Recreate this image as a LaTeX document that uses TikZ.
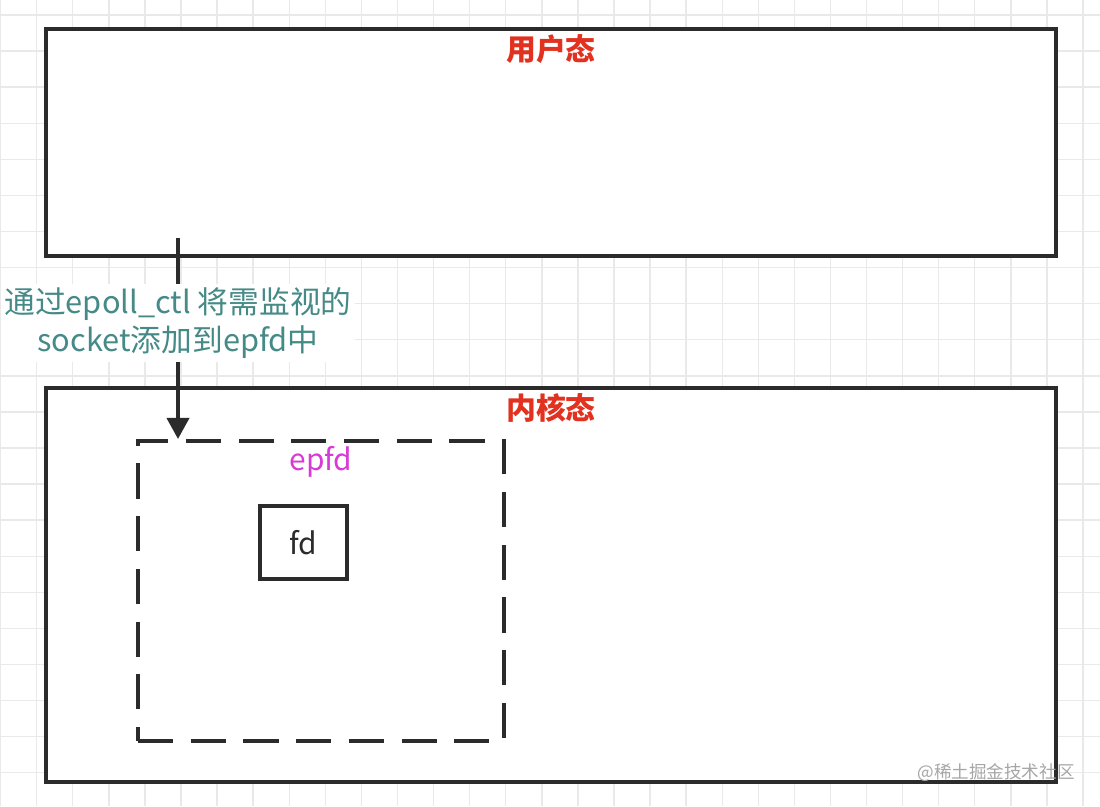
\documentclass[tikz,border=0pt]{standalone}
\usepackage{fontspec}
\setmainfont{Noto Sans CJK SC}
\usepackage{tikz}
\usetikzlibrary{arrows.meta,positioning,calc}
\definecolor{linegray}{HTML}{2B2B2B}
\definecolor{titlered}{HTML}{E2321F}
\definecolor{noteteal}{HTML}{458A87}
\definecolor{epfdpink}{HTML}{D83AD8}
\definecolor{gridgray}{HTML}{E9E9E9}

\tikzset{
  box/.style={draw=linegray, line width=2.3pt, fill=white},
  title/.style={text=titlered, font=\fontsize{17}{19}\selectfont\bfseries},
  gridline/.style={draw=gridgray, line width=0.8pt}
}

\begin{document}
\begin{tikzpicture}[x=0.02cm, y=-0.02cm]
  \useasboundingbox (0,0) rectangle (1100,806);
  % background grid
  \foreach \i in {0,...,30} {
    \draw[gridline] ({0.6+36.08*\i},0) -- ({0.6+36.08*\i},806);
  }
  \foreach \j in {0,...,22} {
    \draw[gridline] (0,{15+36.08*\j}) -- (1100,{15+36.08*\j});
  }

  \node[box, minimum width=20.2cm, minimum height=4.54cm] (user) at (551,142.5) {};
  \node[title, below=0.03cm of user.north] (usertitle) {用户态};

  \node[box, minimum width=20.2cm, minimum height=7.88cm] (kernel) at (551,585) {};
  \node[title, below=0.03cm of kernel.north] (kerneltitle) {内核态};

  \node[draw=linegray, line width=2.3pt, dash pattern=on 20pt off 10pt,
        minimum width=7.32cm, minimum height=6cm] (epfd) at (321,591) {};
  \node[text=epfdpink, font=\fontsize{17}{19}\selectfont, below=0.02cm of epfd.north] (epfdtitle) {epfd};

  \node[box, minimum width=1.74cm, minimum height=1.46cm,
        font=\fontsize{17}{19}\selectfont, text=linegray] (fd) at (303.5,542.5) {fd};

  % epoll_ctl arrow
  \coordinate (start) at (178,238);
  \draw[draw=linegray, line width=2.3pt, -{Triangle[length=12pt, width=12.5pt]}]
    (start) -- (start |- epfd.north);
  \node[fill=white, text=noteteal, align=center, inner sep=2pt,
        font=\fontsize{17.5}{21.5}\selectfont] (note) at (178,323)
    {通过epoll\_ctl 将需监视的\\socket添加到epfd中};

  \node[text=black!35, font=\fontsize{10}{12}\selectfont] (mark) at (996,773) {@稀土掘金技术社区};
\end{tikzpicture}
\end{document}
